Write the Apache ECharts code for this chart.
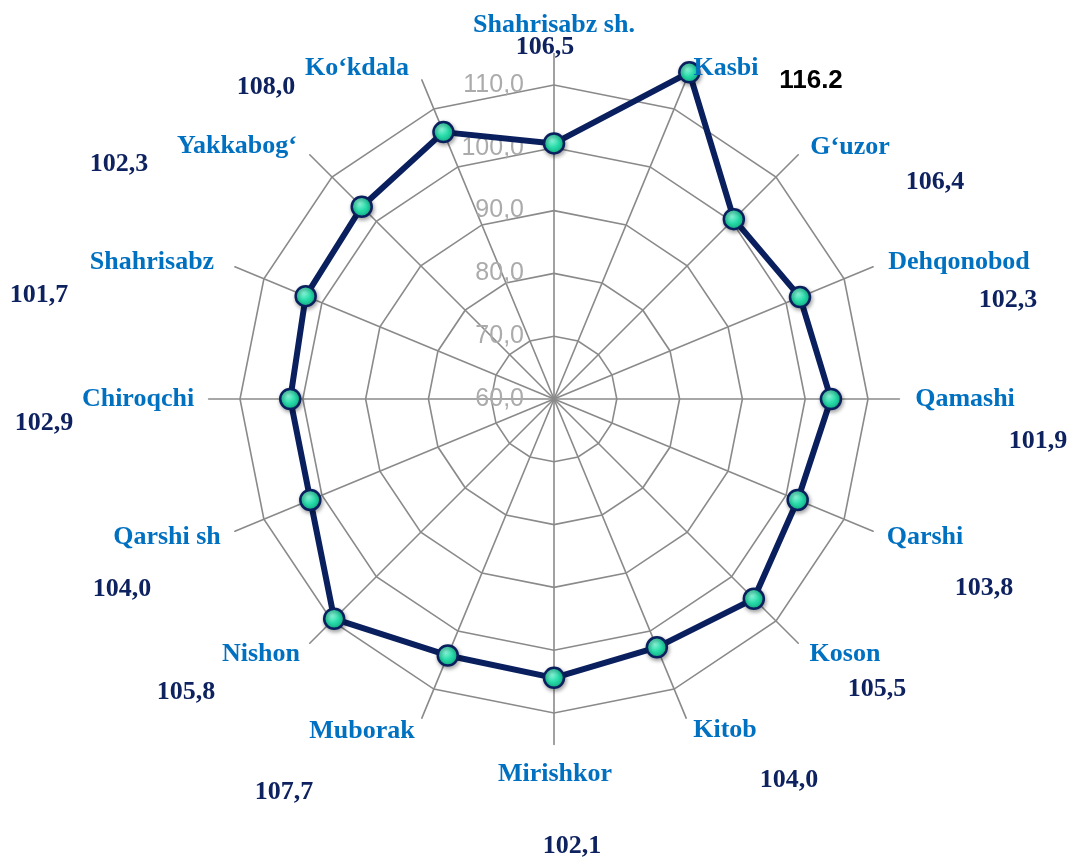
<!DOCTYPE html>
<html>
<head>
<meta charset="utf-8">
<script src="https://cdn.jsdelivr.net/npm/echarts@6/dist/echarts.min.js"></script>
<style>
html,body{margin:0;padding:0;background:#fff;}
#chart{width:1069px;height:857px;}
</style>
</head>
<body>
<div id="chart"></div>
<script>
// Categories in clockwise order starting from the top
const categories = ['Shahrisabz sh.', 'Kasbi', 'G\u2018uzor', 'Dehqonobod', 'Qamashi', 'Qarshi', 'Koson', 'Kitob',
  'Mirishkor', 'Muborak', 'Nishon', 'Qarshi sh', 'Chiroqchi', 'Shahrisabz', 'Yakkabog\u2018', 'Ko\u2018kdala'];
// Plotted values
const values = [100.7, 116.3, 100.5, 102.4, 104.1, 102.0, 105.0, 102.8, 104.4, 104.2, 109.5, 102.0, 102.0, 102.8, 103.3, 106.0];
// Value labels printed next to each name
const valueLabels = ['106,5', '116.2', '106,4', '102,3', '101,9', '103,8', '105,5', '104,0', '102,1', '107,7', '105,8', '104,0', '102,9', '101,7', '102,3', '108,0'];
// Radial tick labels
const tickValues = [60, 70, 80, 90, 100, 110];
const tickLabels = ['60,0', '70,0', '80,0', '90,0', '100,0', '110,0'];

// Layout of the text annotations (pixel centers): [nameX, nameY, valueX, valueY]
const textLayout = [
  [554, 25, 545, 47],
  [726, 68, 811, 81],
  [850, 147, 935, 182],
  [959, 262, 1008, 300],
  [965, 399, 1038, 441],
  [925, 537, 984, 588],
  [845, 654, 877, 689],
  [725, 730, 789, 780],
  [555, 774, 572, 846],
  [362, 731, 284, 792],
  [261, 654, 186, 692],
  [167, 537, 122, 589],
  [138, 399, 44, 423],
  [152, 262, 39, 295],
  [237, 146, 119, 164],
  [357, 68, 266, 87]
];

// ECharts radar runs counter-clockwise: keep first, reverse the rest
const order = [0];
for (let i = categories.length - 1; i >= 1; i--) order.push(i);

const indicators = order.map(function (i, k) {
  const ind = { name: categories[i], min: 60, max: 115 };
  if (k === 0) {
    ind.axisLabel = {
      show: true,
      margin: 30,
      color: '#ABABAB',
      fontSize: 25,
      fontFamily: 'Liberation Sans',
      formatter: function (v) {
        const idx = tickValues.indexOf(Math.round(v * 1000) / 1000);
        return idx >= 0 ? tickLabels[idx] : '';
      }
    };
  }
  return ind;
});
const seriesData = order.map(function (i) { return values[i]; });

const texts = [];
categories.forEach(function (name, i) {
  const p = textLayout[i];
  texts.push({
    type: 'text', x: p[0], y: p[1], z: 100,
    style: {
      text: name, font: 'bold 26px "Liberation Serif"', fill: '#0070C0',
      align: 'center', verticalAlign: 'middle', textAlign: 'center', textVerticalAlign: 'middle'
    }
  });
  const special = valueLabels[i].indexOf('.') >= 0;
  texts.push({
    type: 'text', x: p[2], y: p[3], z: 100,
    style: {
      text: valueLabels[i],
      font: special ? 'bold 26px "Liberation Sans"' : 'bold 26px "Liberation Serif"',
      fill: special ? '#000000' : '#0E2260',
      align: 'center', verticalAlign: 'middle', textAlign: 'center', textVerticalAlign: 'middle'
    }
  });
});

const chart = echarts.init(document.getElementById('chart'), null, { renderer: 'canvas' });
chart.setOption({
  backgroundColor: '#ffffff',
  animation: false,
  radar: {
    center: [554, 399],
    radius: 345.4,
    startAngle: 90,
    shape: 'polygon',
    splitNumber: 11,
    indicator: indicators,
    axisName: { show: false },
    axisLine: { show: true, lineStyle: { color: '#8A8A8A', width: 1.6 } },
    axisTick: { show: false },
    axisLabel: { show: false },
    splitLine: { show: true, lineStyle: { color: ['#8A8A8A', 'rgba(0,0,0,0)'], width: 1.6 } },
    splitArea: { show: false }
  },
  series: [{
    type: 'radar',
    symbol: 'circle',
    symbolSize: 20,
    lineStyle: { color: '#0A1F5E', width: 6 },
    itemStyle: {
      color: {
        type: 'radial', x: 0.4, y: 0.35, r: 0.7,
        colorStops: [
          { offset: 0, color: '#8BF7DA' },
          { offset: 0.5, color: '#26DBA8' },
          { offset: 1, color: '#12A882' }
        ]
      },
      borderColor: '#0A1F5E',
      borderWidth: 2.5,
      shadowBlur: 4,
      shadowOffsetX: 1,
      shadowOffsetY: 2,
      shadowColor: 'rgba(0,0,0,0.35)'
    },
    data: [{ value: seriesData, name: 'Data' }]
  }],
  graphic: { elements: texts }
});
</script>
</body>
</html>
